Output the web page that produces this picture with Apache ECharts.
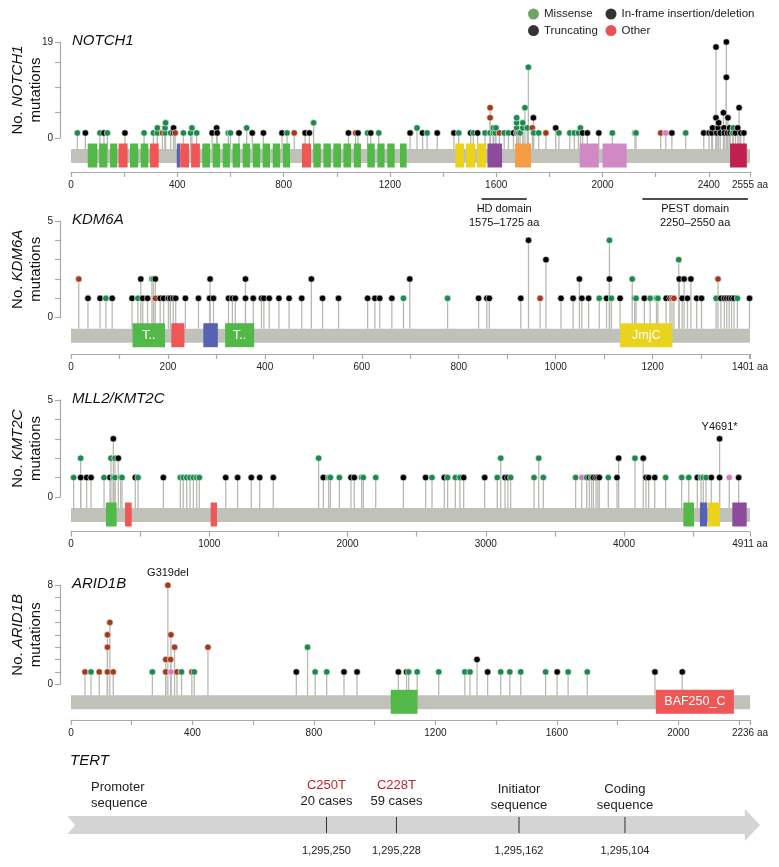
<!DOCTYPE html>
<html><head><meta charset="utf-8">
<script src="https://cdn.jsdelivr.net/npm/echarts@6/dist/echarts.min.js"></script>
<style>html,body{margin:0;padding:0;background:#fff}#c{width:779px;height:867px}</style>
</head><body><div id="c"></div>
<script>
// ================= DATA =================
// mutation entries: [amino-acid position, number of mutations, type]; M missense, T truncating, O other, P pink (other)
const notch1Length = 2555;
const notch1Mutations = [
[24,1,'M'],[54,1,'T'],[109,1,'M'],[124,1,'T'],[137,1,'M'],[203,1,'T'],[275,1,'M'],[310,1,'M'],[325,1,'M'],[325,2,'M'],[344,1,'O'],[354,1,'M'],[354,2,'M'],[356,3,'M'],[375,1,'M'],[386,1,'T'],[386,2,'T'],[392,1,'O'],[423,1,'M'],[450,1,'M'],[455,2,'M'],[473,1,'M'],[531,1,'T'],[548,2,'T'],[550,1,'T'],[592,1,'M'],[600,1,'M'],[632,1,'T'],[661,2,'M'],[682,1,'T'],[724,1,'T'],[794,1,'T'],[813,1,'M'],[840,1,'O'],[881,1,'T'],[897,1,'T'],[913,3,'M'],[1044,1,'T'],[1071,1,'O'],[1080,1,'T'],[1116,1,'M'],[1128,1,'T'],[1158,1,'M'],
[1276,1,'T'],[1302,2,'M'],[1323,1,'T'],[1340,1,'M'],[1378,1,'T'],[1441,1,'T'],[1459,1,'M'],[1504,1,'T'],[1514,1,'M'],[1530,1,'T'],[1558,1,'M'],[1577,1,'M'],[1577,4,'O'],[1577,6,'O'],[1589,1,'M'],[1589,2,'M'],[1596,1,'M'],[1599,2,'M'],[1612,1,'O'],[1630,1,'M'],[1646,1,'M'],[1665,1,'T'],[1677,1,'M'],[1677,2,'M'],[1677,3,'M'],[1677,4,'M'],[1684,1,'O'],[1690,1,'M'],[1700,2,'M'],[1700,3,'M'],[1708,6,'M'],[1717,2,'M'],[1721,14,'M'],[1736,2,'O'],[1740,4,'T'],[1741,1,'M'],[1760,1,'M'],[1787,1,'O'],[1824,2,'T'],[1836,1,'M'],[1877,1,'M'],[1894,1,'M'],[1909,1,'M'],[1917,2,'M'],[1925,1,'T'],[1943,1,'T'],[1986,1,'T'],[2037,1,'M'],[2122,1,'M'],[2126,1,'M'],[2219,1,'O'],[2238,1,'P'],[2261,1,'T'],[2313,1,'M'],
[2381,1,'T'],[2401,1,'T'],[2411,1,'T'],[2414,2,'T'],[2427,18,'T'],[2427,4,'T'],[2430,1,'T'],[2435,2,'T'],[2437,3,'T'],[2443,1,'T'],[2455,5,'T'],[2457,2,'T'],[2458,1,'T'],[2466,19,'T'],[2466,12,'T'],[2472,4,'T'],[2470,1,'T'],[2478,2,'T'],[2480,1,'T'],[2490,1,'M'],[2492,2,'M'],[2500,1,'T'],[2509,2,'T'],[2514,6,'T'],[2520,1,'T'],[2532,1,'T']
];
// domains: [start, end, kind, label]
const notch1Domains = [
[63,99,'egf'],[106,137,'egf'],[147,174,'egf'],[179,213,'red'],[222,253,'egf'],[262,291,'egf'],[297,330,'red'],[398,410,'blue'],[411,444,'red'],[452,485,'red'],[494,523,'egf'],[533,561,'egf'],[571,598,'egf'],[608,636,'egf'],[646,674,'egf'],[684,712,'egf'],[721,749,'egf'],[759,787,'egf'],[797,824,'egf'],[869,903,'red'],[912,940,'egf'],[950,978,'egf'],[987,1016,'egf'],[1025,1054,'egf'],[1064,1091,'egf'],[1115,1143,'egf'],[1153,1180,'egf'],[1190,1218,'egf'],[1238,1263,'egf'],
[1446,1479,'yellow'],[1486,1521,'yellow'],[1528,1562,'yellow'],[1567,1622,'purple'],[1671,1731,'orange'],[1914,1986,'pink'],[2000,2091,'pink'],[2480,2543,'crimson']
];
// region brackets under NOTCH1: [start, end, line 1, line 2]
const notch1Regions = [[1545,1715,'HD domain','1575–1725 aa'],[2150,2547,'PEST domain','2250–2550 aa']];
const notch1XLabels = [0,400,800,1200,1600,2000,2400,2555];
const notch1YLabels = [0,19];
const notch1YTicks = [0,5,10,15,19];

const kdm6aLength = 1401;
const kdm6aMutations = [
[16,2,'O'],[35,1,'T'],[60,1,'T'],[72,1,'M'],[85,1,'T'],[126,1,'T'],[138,1,'M'],[144,2,'T'],[148,1,'T'],[158,1,'T'],[167,2,'M'],[170,2,'M'],[174,2,'T'],[174,1,'O'],[184,1,'T'],[191,1,'T'],[201,1,'T'],[205,1,'T'],[211,1,'T'],[216,1,'T'],[236,1,'T'],[263,1,'T'],[286,1,'T'],[287,2,'T'],[294,1,'T'],[325,1,'T'],[333,1,'T'],[339,1,'T'],[360,2,'T'],[360,1,'T'],[376,1,'T'],[393,1,'T'],[398,1,'T'],[409,1,'T'],[429,1,'T'],[450,1,'T'],[476,1,'T'],[496,2,'T'],[519,1,'T'],[552,1,'T'],[612,1,'T'],[627,1,'T'],[637,1,'T'],[662,1,'T'],[686,1,'M'],[699,2,'T'],[777,1,'M'],[841,1,'T'],[858,1,'T'],[863,1,'T'],[928,1,'T'],[944,4,'T'],[968,1,'O'],[980,3,'T'],[1011,1,'T'],[1036,1,'T'],[1049,2,'T'],[1054,1,'T'],[1068,1,'T'],[1090,1,'M'],[1105,1,'T'],[1111,4,'M'],[1111,2,'T'],[1115,1,'M'],[1133,1,'T'],[1158,2,'M'],[1163,1,'M'],[1166,1,'M'],[1183,1,'T'],[1195,1,'M'],[1208,1,'M'],[1211,1,'M'],[1228,1,'T'],[1236,1,'T'],[1240,1,'O'],[1244,1,'O'],[1254,3,'M'],[1255,2,'T'],[1261,1,'T'],[1265,2,'T'],[1272,1,'T'],[1279,2,'T'],[1291,1,'T'],[1301,1,'T'],[1331,1,'M'],[1335,2,'O'],[1341,1,'T'],[1348,1,'T'],[1353,1,'T'],[1358,1,'T'],[1363,1,'T'],[1368,1,'T'],[1375,1,'M'],[1400,1,'T']
];
const kdm6aDomains = [[127,194,'egf','T..'],[207,234,'red'],[273,303,'blue'],[318,378,'egf','T..'],[1133,1241,'yellow','JmjC']];
const kdm6aXLabels = [0,200,400,600,800,1000,1200,1401];
const kdm6aYLabels = [0,5];
const kdm6aYTicks = [0,1,2,3,4,5];

const kmt2cLength = 4911;
const kmt2cMutations = [
[19,1,'M'],[70,2,'M'],[70,1,'T'],[113,1,'T'],[145,1,'T'],[239,1,'M'],[282,1,'T'],[289,2,'M'],[306,3,'T'],[306,1,'M'],[318,2,'M'],[318,1,'M'],[342,2,'T'],[359,1,'M'],[369,1,'M'],[465,1,'T'],[485,1,'M'],[668,1,'T'],[791,1,'M'],[812,1,'M'],[837,1,'M'],[861,1,'M'],[885,1,'M'],[909,1,'M'],[928,1,'M'],[1119,1,'T'],[1205,1,'T'],[1304,1,'T'],[1365,1,'T'],[1463,1,'T'],[1791,2,'M'],[1825,1,'T'],[1864,1,'M'],[1876,1,'M'],[1941,1,'M'],[2025,1,'T'],[2049,1,'T'],[2102,1,'M'],[2114,1,'M'],[2204,1,'M'],
[2404,1,'T'],[2565,1,'T'],[2611,1,'M'],[2700,1,'T'],[2724,1,'M'],[2780,1,'M'],[2813,1,'M'],[2840,1,'T'],[2992,1,'T'],[3083,1,'M'],[3108,2,'M'],[3139,1,'T'],[3160,1,'T'],[3180,1,'M'],[3349,1,'M'],[3383,2,'M'],[3416,1,'M'],[3650,1,'M'],[3694,1,'P'],[3730,1,'M'],[3749,1,'T'],[3765,1,'M'],[3778,1,'T'],[3797,1,'T'],[3810,1,'T'],[3821,1,'T'],[3886,1,'M'],[3949,1,'T'],[3961,2,'T'],[4079,2,'M'],[4139,2,'T'],[4159,1,'T'],[4178,1,'T'],[4222,1,'T'],[4301,1,'M'],[4417,1,'M'],[4468,1,'M'],[4530,1,'T'],[4557,1,'M'],[4573,1,'M'],[4593,1,'M'],[4631,1,'T'],[4691,3,'T'],[4691,1,'T'],[4761,1,'P'],[4829,1,'T']
];
const kmt2cDomains = [[253,330,'egf'],[391,439,'red'],[1010,1056,'red'],[4429,4506,'egf'],[4549,4602,'blue'],[4607,4694,'yellow'],[4783,4887,'purple']];
const kmt2cAnnotations = [[4691,3,'Y4691*']];
const kmt2cXLabels = [0,1000,2000,3000,4000,4911];
const kmt2cYLabels = [0,5];
const kmt2cYTicks = [0,1,2,3,4,5];

const arid1bLength = 2236;
const arid1bMutations = [
[46,1,'O'],[66,1,'M'],[93,1,'O'],[120,1,'O'],[120,3,'O'],[120,4,'O'],[128,5,'O'],[139,1,'O'],[268,1,'M'],[312,1,'O'],[312,2,'O'],[319,8,'O'],[328,2,'O'],[329,4,'O'],[329,1,'P'],[341,3,'O'],[349,1,'O'],[364,1,'M'],[398,1,'O'],[406,1,'M'],[451,3,'O'],[742,1,'T'],[779,3,'M'],[804,1,'M'],[842,1,'M'],[899,1,'T'],[942,1,'T'],[1078,1,'T'],[1105,1,'T'],[1112,1,'M'],[1140,1,'M'],[1211,1,'M'],[1297,1,'M'],[1314,1,'M'],[1337,2,'T'],[1372,1,'T'],[1415,1,'M'],[1445,1,'M'],[1481,1,'M'],[1563,1,'M'],[1601,1,'T'],[1637,1,'M'],[1700,1,'M'],[1923,1,'T'],[2013,1,'T']
];
const arid1bDomains = [[1053,1141,'egf'],[1926,2183,'red','BAF250_C']];
const arid1bAnnotations = [[319,8,'G319del']];
const arid1bXLabels = [0,400,800,1200,1600,2000,2236];
const arid1bYLabels = [0,8];
const arid1bYTicks = [0,1,2,3,4,5,6,7,8];

// TERT schematic (positions on a 0–100 schematic scale along the arrow)
const tertSitePositions = [37.4, 47.5, 65.2, 80.5];
const tertSiteCoordinates = ['1,295,250','1,295,228','1,295,162','1,295,104'];
const tertSiteLine1 = ['C250T','C228T','Initiator','Coding'];
const tertSiteLine2 = ['20 cases','59 cases','sequence','sequence'];
const tertSiteIsMutation = [true,true,false,false];
const tertPromoterPosition = 3.4;
const tertPromoterLines = ['Promoter','sequence'];
const tertArrow = [0, 97.8, 100]; // tail, end of body, tip

const legendNames = ['Missense','Truncating','In-frame insertion/deletion','Other'];

// ================= STYLE =================
const F = "'Liberation Sans', Arial, Helvetica, sans-serif";
const TYPE_COLORS = {M:'#1b8a4c', T:'#000000', O:'#a23a1e', P:'#d47cc0'};
const LEGEND_COLORS = {'Missense':'#4d8f3f','Truncating':'#000000','In-frame insertion/deletion':'#000000','Other':'#e3262a'};
const DOMAIN_COLORS = {egf:'#52b848', red:'#ef5656', blue:'#5862b2', yellow:'#ebd21d', purple:'#8d4b9c', orange:'#f59c45', pink:'#d189c5', crimson:'#c21f50'};
const BACKBONE = '#c0c1b9', STEM = '#b9b9b3', AXIS = '#aaaaaa';
const BB_TOP = 11, BB_H = 14, DOM_TOP = 5.5, DOM_H = 24;

const panels = [
  {gene:'NOTCH1', title:'NOTCH1', len:notch1Length, muts:notch1Mutations, domains:notch1Domains, xLabels:notch1XLabels, xStep:200, yLabels:notch1YLabels, yTicks:notch1YTicks, ann:[]},
  {gene:'KDM6A', title:'KDM6A', len:kdm6aLength, muts:kdm6aMutations, domains:kdm6aDomains, xLabels:kdm6aXLabels, xStep:100, yLabels:kdm6aYLabels, yTicks:kdm6aYTicks, ann:[]},
  {gene:'KMT2C', title:'MLL2/KMT2C', len:kmt2cLength, muts:kmt2cMutations, domains:kmt2cDomains, xLabels:kmt2cXLabels, xStep:500, yLabels:kmt2cYLabels, yTicks:kmt2cYTicks, ann:kmt2cAnnotations},
  {gene:'ARID1B', title:'ARID1B', len:arid1bLength, muts:arid1bMutations, domains:arid1bDomains, xLabels:arid1bXLabels, xStep:200, yLabels:arid1bYLabels, yTicks:arid1bYTicks, ann:arid1bAnnotations}
];
const layout = [
  {top:42, zero:138, axis:172},
  {top:221, zero:317.7, axis:354},
  {top:400, zero:497, axis:531.7},
  {top:585.3, zero:684.3, axis:720}
];

const grids = [], xAxes = [], yAxes = [], series = [], titles = [];
panels.forEach((p, i) => {
  const L = layout[i];
  const ymax = p.yTicks[p.yTicks.length - 1];
  grids.push({left:71, right:29, top:L.top, height:L.zero - L.top, outerBoundsMode:'none', containLabel:false});
  const xt = [];
  for (let v = 0; v < p.len; v += p.xStep) xt.push(v);
  xt.push(p.len);
  xAxes.push({gridIndex:i, type:'value', min:0, max:p.len, position:'bottom', offset:L.axis - L.zero,
    axisLine:{show:true, onZero:false, lineStyle:{color:AXIS, width:1.2}},
    axisTick:{show:true, length:5, lineStyle:{color:AXIS, width:1.2}, customValues:xt},
    axisLabel:{customValues:p.xLabels, formatter:v => v === p.len ? v + ' aa' : String(v), fontSize:10, fontFamily:F, color:'#222', margin:8},
    splitLine:{show:false}});
  yAxes.push({gridIndex:i, type:'value', min:0, max:ymax, position:'left', offset:11,
    axisLine:{show:true, onZero:false, lineStyle:{color:AXIS, width:1.2}},
    axisTick:{show:true, length:5, lineStyle:{color:AXIS, width:1.2}, customValues:p.yTicks},
    axisLabel:{customValues:p.yLabels, fontSize:10, fontFamily:F, color:'#222', margin:7},
    splitLine:{show:false},
    name:'{a|No. }{i|' + p.gene + '}\n{a|mutations}', nameLocation:'middle', nameGap:15, nameRotate:90, nameMoveOverlap:false,
    nameTextStyle:{rich:{a:{fontSize:15, fontFamily:F, color:'#111', lineHeight:18}, i:{fontSize:15, fontFamily:F, fontStyle:'italic', color:'#111', lineHeight:18}}}});
  titles.push({text:p.title, left:72, top:L.top - 9, padding:0, textStyle:{fontSize:15, fontStyle:'italic', fontWeight:'normal', fontFamily:F, color:'#111'}});

  // backbone
  series.push({type:'custom', xAxisIndex:i, yAxisIndex:i, clip:false, silent:true, z:1,
    data:[[0, p.len]],
    renderItem:(params, api) => {
      const a = api.coord([api.value(0), 0]), b = api.coord([api.value(1), 0]);
      return {type:'rect', shape:{x:a[0], y:a[1] + BB_TOP, width:b[0] - a[0], height:BB_H}, style:{fill:BACKBONE}};
    }});
  // stems
  series.push({type:'custom', xAxisIndex:i, yAxisIndex:i, clip:false, silent:true, z:2,
    data:p.muts.map(m => [m[0], m[1]]),
    renderItem:(params, api) => {
      const t = api.coord([api.value(0), api.value(1)]), b = api.coord([api.value(0), 0]);
      return {type:'line', shape:{x1:t[0], y1:t[1], x2:t[0], y2:b[1] + BB_TOP}, style:{stroke:STEM, lineWidth:1.3}};
    }});
  // domains
  series.push({type:'custom', xAxisIndex:i, yAxisIndex:i, clip:false, silent:true, z:3,
    data:p.domains.map(d => [d[0], d[1]]),
    renderItem:(params, api) => {
      const d = p.domains[params.dataIndex];
      const a = api.coord([d[0], 0]), b = api.coord([d[1], 0]);
      const ch = [{type:'rect', shape:{x:a[0], y:a[1] + DOM_TOP, width:b[0] - a[0], height:DOM_H}, style:{fill:DOMAIN_COLORS[d[2]]}}];
      if (d[3]) ch.push({type:'text', style:{text:d[3], x:(a[0] + b[0]) / 2, y:a[1] + DOM_TOP + DOM_H / 2, align:'center', verticalAlign:'middle', fill:'#ffffff', fontSize:12.5, fontFamily:F}});
      return {type:'group', children:ch};
    }});
  // dots
  series.push({type:'scatter', xAxisIndex:i, yAxisIndex:i, clip:false, silent:true, z:5,
    symbol:'circle', symbolSize:6.5, data:p.muts,
    itemStyle:{color:params => TYPE_COLORS[params.data[2]], borderColor:'#ffffff', borderWidth:0.6, opacity:1}});
  // annotations
  if (p.ann.length) series.push({type:'custom', xAxisIndex:i, yAxisIndex:i, clip:false, silent:true, z:6,
    data:p.ann.map(a => [a[0], a[1]]),
    renderItem:(params, api) => {
      const a = p.ann[params.dataIndex];
      const c = api.coord([a[0], a[1]]);
      return {type:'text', style:{text:a[2], x:c[0], y:c[1] - 12, align:'center', verticalAlign:'middle', fill:'#111', fontSize:11, fontFamily:F}};
    }});
});

// NOTCH1 region brackets
series.push({type:'custom', xAxisIndex:0, yAxisIndex:0, clip:false, silent:true, z:6,
  data:notch1Regions.map(r => [r[0], r[1]]),
  renderItem:(params, api) => {
    const r = notch1Regions[params.dataIndex];
    const a = api.coord([r[0], 0]), b = api.coord([r[1], 0]);
    const cx = (a[0] + b[0]) / 2;
    return {type:'group', children:[
      {type:'line', shape:{x1:a[0], y1:a[1] + 61, x2:b[0], y2:a[1] + 61}, style:{stroke:'#111', lineWidth:1.5}},
      {type:'text', style:{text:r[2], x:cx, y:a[1] + 70.5, align:'center', verticalAlign:'middle', fill:'#111', fontSize:11, fontFamily:F}},
      {type:'text', style:{text:r[3], x:cx, y:a[1] + 84.5, align:'center', verticalAlign:'middle', fill:'#111', fontSize:11, fontFamily:F}}
    ]};
  }});

// legend dummy series
legendNames.forEach(n => series.push({type:'scatter', name:n, xAxisIndex:0, yAxisIndex:0, data:[], itemStyle:{color:LEGEND_COLORS[n]}}));

// TERT grid
const T = 4;
grids.push({left:67.5, right:19, top:809, height:32, outerBoundsMode:'none', containLabel:false});
xAxes.push({gridIndex:T, type:'value', min:0, max:100, show:false});
yAxes.push({gridIndex:T, type:'value', min:0, max:1, show:false});
titles.push({text:'TERT', left:70, top:753, padding:0, textStyle:{fontSize:15, fontStyle:'italic', fontWeight:'normal', fontFamily:F, color:'#111'}});
series.push({type:'custom', xAxisIndex:T, yAxisIndex:T, clip:false, silent:true, z:1,
  data:[tertArrow],
  renderItem:(params, api) => {
    const xl = api.coord([api.value(0), 0.5]), xb = api.coord([api.value(1), 0.5]), xt = api.coord([api.value(2), 0.5]);
    const cy = xl[1];
    return {type:'polygon', shape:{points:[[xl[0], cy - 9], [xb[0], cy - 9], [xb[0], cy - 16], [xt[0], cy], [xb[0], cy + 16], [xb[0], cy + 9], [xl[0], cy + 9], [xl[0] + 7.5, cy]]}, style:{fill:'#d4d4d4'}};
  }});
series.push({type:'custom', xAxisIndex:T, yAxisIndex:T, clip:false, silent:true, z:2,
  data:tertSitePositions.map(p => [p, 0.5]),
  renderItem:(params, api) => {
    const i = params.dataIndex;
    const c = api.coord([api.value(0), 0.5]);
    const mut = tertSiteIsMutation[i];
    const up = mut ? 0 : 4;
    return {type:'group', children:[
      {type:'line', shape:{x1:c[0], y1:c[1] - 8, x2:c[0], y2:c[1] + 8}, style:{stroke:'#333', lineWidth:1}},
      {type:'text', style:{text:tertSiteLine1[i], x:c[0], y:c[1] - 40 + up, align:'center', verticalAlign:'middle', fill:mut ? '#c0242c' : '#222', fontSize:13, fontFamily:F}},
      {type:'text', style:{text:tertSiteLine2[i], x:c[0], y:c[1] - 24 + up, align:'center', verticalAlign:'middle', fill:'#222', fontSize:13, fontFamily:F}},
      {type:'text', style:{text:tertSiteCoordinates[i], x:c[0], y:c[1] + 26, align:'center', verticalAlign:'middle', fill:'#222', fontSize:11, fontFamily:F}}
    ]};
  }});
series.push({type:'custom', xAxisIndex:T, yAxisIndex:T, clip:false, silent:true, z:2,
  data:[[tertPromoterPosition, 0.5]],
  renderItem:(params, api) => {
    const c = api.coord([api.value(0), 0.5]);
    return {type:'group', children:[
      {type:'text', style:{text:tertPromoterLines[0], x:c[0], y:c[1] - 38, align:'left', verticalAlign:'middle', fill:'#222', fontSize:13, fontFamily:F}},
      {type:'text', style:{text:tertPromoterLines[1], x:c[0], y:c[1] - 22, align:'left', verticalAlign:'middle', fill:'#222', fontSize:13, fontFamily:F}}
    ]};
  }});

const legendBase = {orient:'vertical', icon:'circle', itemWidth:11, itemHeight:11, itemGap:3.6, selectedMode:false, padding:0,
  textStyle:{fontSize:11.5, fontFamily:F, color:'#222', lineHeight:13}};
const option = {
  animation:false,
  backgroundColor:'#ffffff',
  title:titles,
  legend:[
    Object.assign({}, legendBase, {left:528, top:7.5, data:[legendNames[0], legendNames[1]]}),
    Object.assign({}, legendBase, {left:605.5, top:7.5, data:[legendNames[2], legendNames[3]]})
  ],
  grid:grids, xAxis:xAxes, yAxis:yAxes, series:series
};
const chart = echarts.init(document.getElementById('c'), null, {renderer:'canvas'});
chart.setOption(option);
</script>
</body></html>
